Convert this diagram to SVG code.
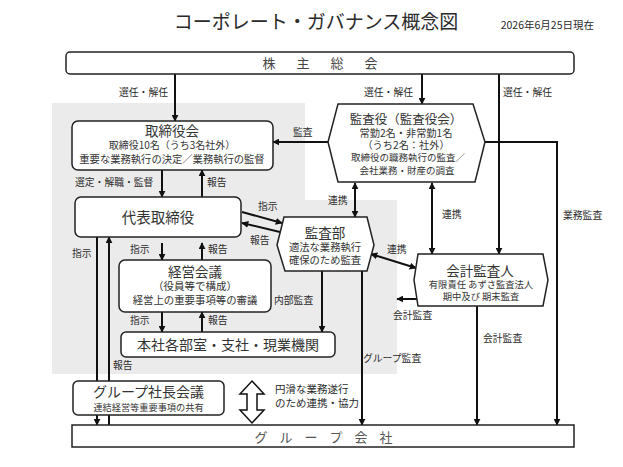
<svg xmlns="http://www.w3.org/2000/svg" width="623" height="467" viewBox="0 0 623 467">
<defs>
<marker id="ah" viewBox="0 0 10 10" refX="9" refY="5" markerWidth="7" markerHeight="7" markerUnits="userSpaceOnUse" orient="auto-start-reverse"><path d="M0,0 L10,5 L0,10 z" fill="#111"/></marker>
<style>
text{font-family:"Noto Sans CJK JP","Noto Sans",sans-serif;fill:#2a2a2a}
.lbl{font-size:9.8px}
.c{text-anchor:middle}
.e{text-anchor:end}
.n text{fill:#333}
.box{fill:#fff;stroke:#222;stroke-width:1.5}
.ln{fill:none;stroke:#111;stroke-width:2}
.a{marker-end:url(#ah)}
.b{marker-start:url(#ah);marker-end:url(#ah)}
</style>
</defs>
<rect width="623" height="467" fill="#fff"/>
<path d="M52,103 H305 V200 H397 V374 H52 Z" fill="#ebebeb"/>
<text x="316" y="29" class="c" style="font-size:19px">コーポレート・ガバナンス概念図</text>
<text x="594" y="29" class="e" style="font-size:10.5px">2026年6月25日現在</text>

<g id="connectors">
<line class="ln a" x1="175" y1="74" x2="175" y2="121"/>
<line class="ln a" x1="422" y1="74" x2="422" y2="104"/>
<line class="ln a" x1="499" y1="74" x2="499" y2="254"/>
<line class="ln a" x1="328" y1="142" x2="273" y2="142"/>
<polyline class="ln a" points="485,142 557,142 557,425"/>
<line class="ln b" x1="355" y1="183" x2="355" y2="217"/>
<line class="ln b" x1="432" y1="183" x2="432" y2="254"/>
<line class="ln a" x1="162" y1="170" x2="162" y2="197"/>
<line class="ln a" x1="202" y1="197" x2="202" y2="170"/>
<line class="ln a" x1="242" y1="212" x2="282" y2="223"/>
<line class="ln a" x1="280" y1="232" x2="242" y2="223"/>
<line class="ln a" x1="162" y1="243" x2="162" y2="260"/>
<line class="ln a" x1="202" y1="260" x2="202" y2="243"/>
<line class="ln a" x1="162" y1="312" x2="162" y2="332"/>
<line class="ln a" x1="202" y1="332" x2="202" y2="312"/>
<line class="ln a" x1="322" y1="271" x2="322" y2="332"/>
<line class="ln a" x1="362" y1="271" x2="362" y2="425"/>
<line class="ln b" x1="371" y1="254" x2="416" y2="268"/>
<line class="ln a" x1="417" y1="299" x2="397" y2="299"/>
<line class="ln a" x1="477" y1="306" x2="477" y2="425"/>
<line class="ln a" x1="97" y1="237" x2="97" y2="425"/>
<line class="ln a" x1="109" y1="425" x2="109" y2="237"/>
<path d="M252,381 L264,394 L257,394 L257,410 L264,410 L252,423 L240,410 L247,410 L247,394 L240,394 Z" fill="#fff" stroke="#111" stroke-width="1.5"/>
<g class="lbl">
<text x="168" y="95.5" class="e">選任・解任</text>
<text x="413" y="95.5" class="e">選任・解任</text>
<text x="503" y="95.5">選任・解任</text>
<text x="293" y="135.5">監査</text>
<text x="328" y="203.5">連携</text>
<text x="442" y="217.5">連携</text>
<text x="563" y="218.5">業務監査</text>
<text x="75" y="185.5">選定・解職・監督</text>
<text x="207" y="185.5">報告</text>
<text x="258" y="209.5">指示</text>
<text x="250" y="243.5">報告</text>
<text x="130" y="252.5">指示</text>
<text x="208" y="252.5">報告</text>
<text x="130" y="323.5">指示</text>
<text x="208" y="323.5">報告</text>
<text x="72" y="256.5">指示</text>
<text x="113" y="368.5">報告</text>
<text x="274" y="303.5">内部監査</text>
<text x="363" y="361.5">グループ監査</text>
<text x="387" y="252.5">連携</text>
<text x="393" y="318.5">会計監査</text>
<text x="483" y="341.5">会計監査</text>
<text x="275" y="393" style="font-size:10.5px">円滑な業務遂行</text>
<text x="275" y="407" style="font-size:10.5px">のため連携・協力</text>
</g>
</g>

<g id="shareholders" class="n">
<rect class="box" x="66" y="52" width="508" height="22" rx="4"/>
<text y="68" class="c" x="269 303 337 371" style="font-size:13px;fill:#444">株主総会</text>
</g>

<g id="board" class="n">
<rect class="box" x="72" y="121" width="201" height="49" rx="6"/>
<text x="172" y="135.5" class="c" style="font-size:13.5px">取締役会</text>
<text x="172" y="148.5" class="c" style="font-size:10px">取締役10名（うち3名社外）</text>
<text x="172" y="162.5" class="c" style="font-size:10.3px">重要な業務執行の決定／業務執行の監督</text>
</g>

<g id="representative" class="n">
<rect class="box" x="75" y="197" width="166" height="40" rx="6"/>
<text x="158" y="222.5" class="c" style="font-size:14.5px">代表取締役</text>
</g>

<g id="management" class="n">
<rect class="box" x="119" y="260" width="152" height="52" rx="6"/>
<text x="195" y="276.5" class="c" style="font-size:13.5px">経営会議</text>
<text x="195" y="289.5" class="c" style="font-size:10.5px">（役員等で構成）</text>
<text x="195" y="303.5" class="c" style="font-size:10.4px">経営上の重要事項等の審議</text>
</g>

<g id="departments" class="n">
<rect class="box" x="121" y="332" width="214" height="25" rx="5"/>
<text x="228" y="350" class="c" style="font-size:14px">本社各部室・支社・現業機関</text>
</g>

<g id="group-presidents" class="n">
<rect class="box" x="73" y="381" width="151" height="34" rx="5"/>
<text x="148.5" y="397" class="c" style="font-size:14px">グループ社長会議</text>
<text x="148.5" y="410.5" class="c" style="font-size:9.2px">連結経営等重要事項の共有</text>
</g>

<g id="auditors" class="n">
<polygon class="box" points="338,104 473,104 485,142 475,182 338,182 328,142"/>
<text x="406" y="124" class="c" style="font-size:12.5px">監査役（監査役会）</text>
<text x="406" y="136.5" class="c" style="font-size:10.2px">常勤2名・非常勤1名</text>
<text x="406" y="148.5" class="c" style="font-size:10.2px">（うち2名：社外）</text>
<text x="408" y="161" class="c" style="font-size:9.5px">取締役の職務執行の監査／</text>
<text x="407" y="173.5" class="c" style="font-size:9.5px">会社業務・財産の調査</text>
</g>

<g id="audit-dept" class="n">
<polygon class="box" points="284,217 367,217 374,245 367,271 285,271 277,245"/>
<text x="325" y="237.5" class="c" style="font-size:13.5px">監査部</text>
<text x="325" y="250.5" class="c" style="font-size:10.3px">適法な業務執行</text>
<text x="325" y="264" class="c" style="font-size:10.3px">確保のため監査</text>
</g>

<g id="accounting-auditor" class="n">
<polygon class="box" points="418,254 543,254 548,280 543,306 418,306 414,280"/>
<text x="480" y="275.5" class="c" style="font-size:13.5px">会計監査人</text>
<text x="481" y="287.5" class="c" style="font-size:9.3px">有限責任 あずさ監査法人</text>
<text x="481" y="299.5" class="c" style="font-size:9.3px">期中及び 期末監査</text>
</g>

<g id="group-companies" class="n">
<rect class="box" x="72" y="425" width="502" height="22"/>
<text y="442" class="c" x="261 286 311 336 361 386" style="font-size:13px;fill:#555">グループ会社</text>
</g>
</svg>
